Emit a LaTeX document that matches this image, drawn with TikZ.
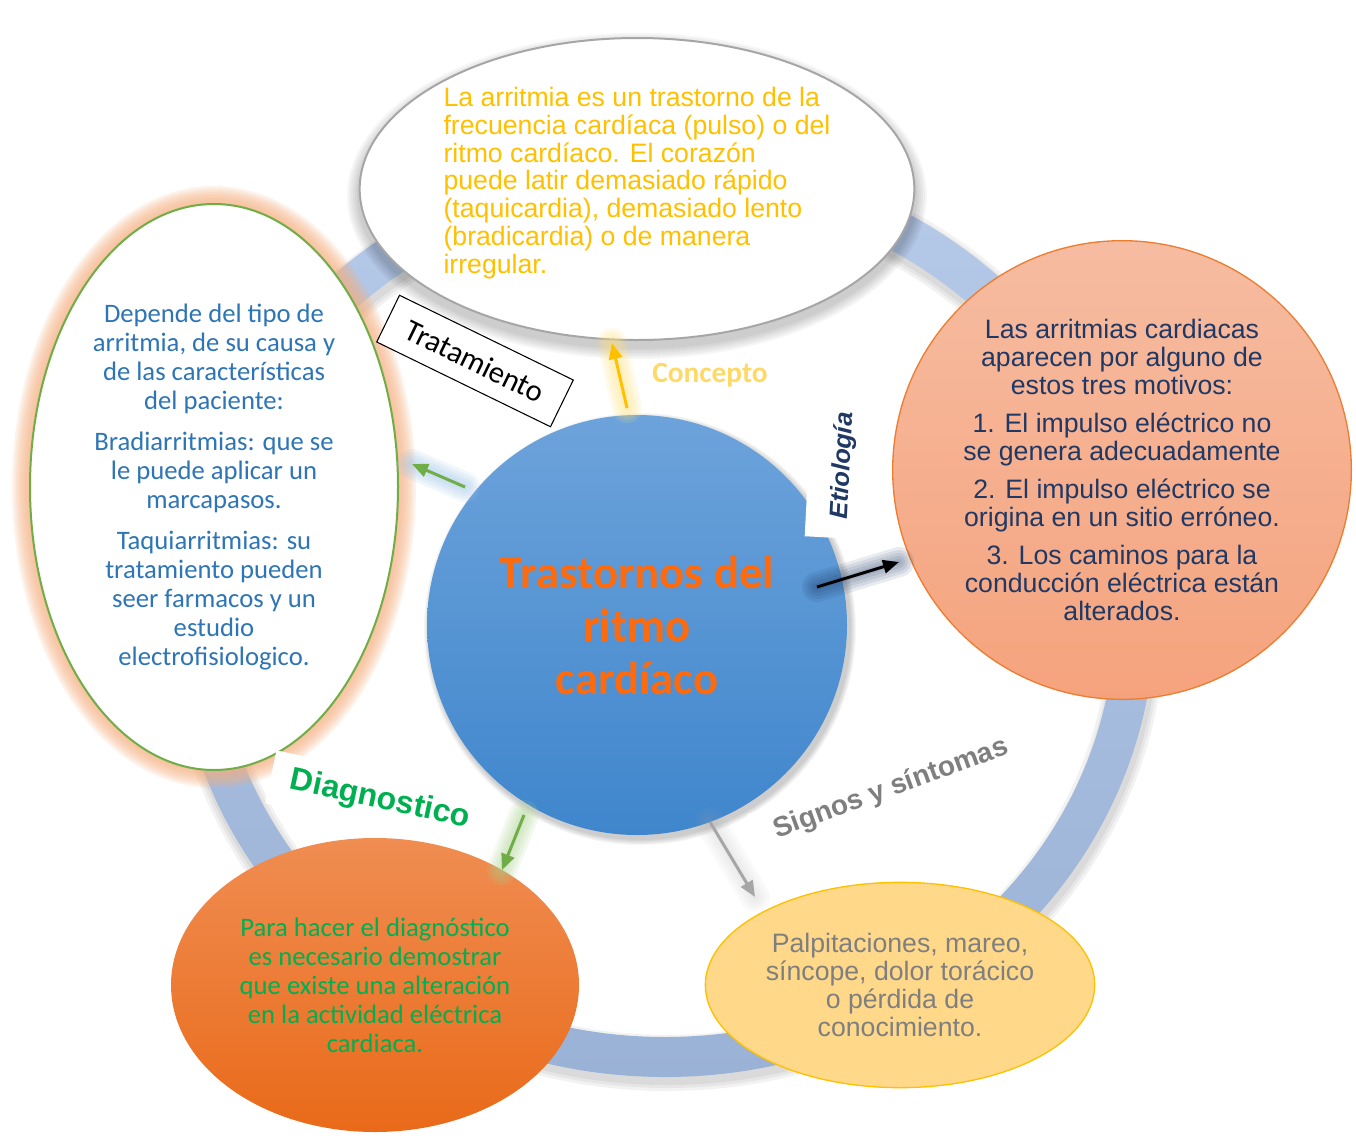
\documentclass[tikz,border=0pt]{standalone}
\usepackage{fontspec}
\setmainfont{Liberation Sans}
\newfontfamily\calibri{Carlito}
\usepackage{tikz}
\usetikzlibrary{shapes.geometric, arrows.meta, positioning, calc}
\definecolor{RingTop}{HTML}{B6CAE9}
\definecolor{RingBottom}{HTML}{9AB2D6}
\definecolor{CoreTop}{HTML}{6DA3DB}
\definecolor{CoreBottom}{HTML}{3F86CC}
\definecolor{TitleOrange}{HTML}{FF6A0D}
\definecolor{Gold}{HTML}{FFC000}
\definecolor{PaleGold}{HTML}{FFD966}
\definecolor{SalmonTop}{HTML}{F6BCA1}
\definecolor{SalmonBottom}{HTML}{F5A37D}
\definecolor{EdgeOrange}{HTML}{ED7D31}
\definecolor{Navy}{HTML}{203864}
\definecolor{DeepNavy}{HTML}{1F3864}
\definecolor{LeafGreen}{HTML}{70AD47}
\definecolor{BrightGreen}{HTML}{00B050}
\definecolor{OfficeBlue}{HTML}{2E75B6}
\definecolor{Peach}{HTML}{F4B183}
\definecolor{PumpkinTop}{HTML}{F08D52}
\definecolor{PumpkinBottom}{HTML}{E96A19}
\definecolor{Butter}{HTML}{FFD88A}
\definecolor{MidGray}{HTML}{7F7F7F}
\definecolor{LightGray}{HTML}{A6A6A6}
\definecolor{SkyGlow}{HTML}{9DC3E6}
\definecolor{MintGlow}{HTML}{A9D18E}
\definecolor{GoldGlow}{HTML}{FFE07A}

\begin{document}
\begin{tikzpicture}[
    x=0.75pt, y=-0.75pt,
    bubble/.style={ellipse, inner sep=0pt, align=center},
    arialtxt/.style={font=\fontsize{20}{20.8}\selectfont},
    calibtxt/.style={font=\calibri\fontsize{20}{21.75}\selectfont},
    tag/.style={fill=white, inner xsep=15pt, inner ysep=9pt},
    pointer/.style={-{Triangle[length=12pt, width=10pt]}, line width=2.2pt},
    halo/.style={line cap=round, opacity=0.14}
]
    \useasboundingbox (0,0) rectangle (1356,1142);

    % Outer ring
    \foreach \w in {44,50,56}
        \draw[black, opacity=0.05, line width=\w*0.75pt] (667,621) ellipse [x radius=470, y radius=442];
    \shade[top color=RingTop, bottom color=RingBottom, even odd rule]
        (665,615) ellipse [x radius=490, y radius=462]
        (665,615) ellipse [x radius=450, y radius=422];

    % Centre circle
    \foreach \r in {1,...,6}
        \fill[black, opacity=0.035] (640,629) circle [radius=210+\r];
    \node[circle, inner sep=0pt, minimum size=315pt, top color=CoreTop, bottom color=CoreBottom,
          align=center, text=TitleOrange, font=\calibri\bfseries\fontsize{35}{39.75}\selectfont]
          (core) at (637,625) {Trastornos del\\ritmo\\cardíaco};

    % Concepto
    \foreach \r in {2,4,...,12}
        \fill[black, opacity=0.035] (637,196) ellipse [x radius=278+\r, y radius=151+\r];
    \node[bubble, fill=white, draw=LightGray, line width=1.5pt, minimum width=416pt, minimum height=226.5pt]
          (concept) at (637,189) {};
    \node[align=left, arialtxt, text=Gold, yshift=4.5pt] (concepttxt) at (concept.center)
          {La arritmia es un trastorno de la\\frecuencia cardíaca (pulso) o del\\ritmo cardíaco. El corazón\\puede latir demasiado rápido\\(taquicardia), demasiado lento\\(bradicardia) o de manera\\irregular.};

    % Tratamiento
    \foreach \w in {4,8,...,36}
        \draw[Peach, opacity=0.15, line width=\w*0.75pt] (214,487) ellipse [x radius=184, y radius=283];
    \node[bubble, fill=white, draw=LeafGreen, line width=1.5pt, minimum width=276pt, minimum height=424.5pt,
          calibtxt, text=OfficeBlue] (treat) at (214,487)
          {Depende del tipo de\\arritmia, de su causa y\\de las características\\del paciente:\\[9pt]
           Bradiarritmias: que se\\le puede aplicar un\\marcapasos.\\[9pt]
           Taquiarritmias: su\\tratamiento pueden\\seer farmacos y un\\estudio\\electrofisiologico.};

    % Etiologia
    \node[bubble, top color=SalmonTop, bottom color=SalmonBottom, draw=EdgeOrange, line width=1pt,
          minimum width=344pt, minimum height=344pt, arialtxt, text=Navy] (cause) at (1122,470)
          {Las arritmias cardiacas\\aparecen por alguno de\\estos tres motivos:\\[8pt]
           1. El impulso eléctrico no\\se genera adecuadamente\\[8pt]
           2. El impulso eléctrico se\\origina en un sitio erróneo.\\[8pt]
           3. Los caminos para la\\conducción eléctrica están\\alterados.};

    % Labels
    \node[draw=black, fill=white, line width=0.8pt, rotate=-26, minimum width=145pt, minimum height=39pt,
          font=\calibri\fontsize{23}{23}\selectfont] (tratlab) at (475,361) {Tratamiento};
    \node[text=PaleGold, font=\calibri\bfseries\fontsize{22}{22}\selectfont] (conclab) at (710,375) {Concepto};
    \node[tag, rotate=87, inner xsep=14pt, inner ysep=17pt, text=DeepNavy,
          font=\bfseries\itshape\fontsize{19}{19}\selectfont] (etiolab) at (843,466) {Etiología};
    \node[tag, rotate=-12, text=BrightGreen, font=\bfseries\fontsize{24}{24}\selectfont] (diaglab) at (380,800) {Diagnostico};
    \node[tag, rotate=20, text=MidGray, font=\bfseries\fontsize{21}{21}\selectfont] (signlab) at (891,789) {Signos y síntomas};

    % Diagnostico y signos
    \node[bubble, top color=PumpkinTop, bottom color=PumpkinBottom, minimum width=306pt, minimum height=220.5pt,
          calibtxt, text=BrightGreen] (diag) at (375,985)
          {Para hacer el diagnóstico\\es necesario demostrar\\que existe una alteración\\en la actividad eléctrica\\cardiaca.};
    \node[bubble, fill=Butter, draw=Gold, line width=1pt, minimum width=292pt, minimum height=154pt,
          arialtxt, text=MidGray] (sign) at (900,985)
          {Palpitaciones, mareo,\\síncope, dolor torácico\\o pérdida de\\conocimiento.};

    % Arrows
    \coordinate (cptS) at (627,408);  \coordinate (cptE) at (612,343);
    \coordinate (trtS) at (465,487);  \coordinate (trtE) at (412,464);
    \coordinate (etiS) at (817,587);  \coordinate (etiE) at (899,562);
    \coordinate (dgnS) at (524,815);  \coordinate (dgnE) at (502,870);
    \coordinate (sgnS) at (710,822);  \coordinate (sgnE) at (755,897);

    \foreach \w in {6,12,...,30} {
        \draw[halo, GoldGlow, line width=\w*0.75pt] (cptS) -- (cptE);
        \draw[halo, SkyGlow, line width=\w*0.75pt] (trtS) -- (trtE);
        \draw[halo, DeepNavy, opacity=0.1, line width=\w*0.75pt] (etiS) -- (etiE);
        \draw[halo, MintGlow, line width=\w*0.75pt] (dgnS) -- (dgnE);
        \draw[halo, LightGray, opacity=0.05, line width=\w*0.75pt] (sgnS) -- (sgnE);
    }
    \draw[pointer, Gold] (cptS) -- (cptE);
    \draw[pointer, LeafGreen] (trtS) -- (trtE);
    \draw[pointer, black] (etiS) -- (etiE);
    \draw[pointer, LeafGreen] (dgnS) -- (dgnE);
    \draw[pointer, LightGray] (sgnS) -- (sgnE);
\end{tikzpicture}
\end{document}
